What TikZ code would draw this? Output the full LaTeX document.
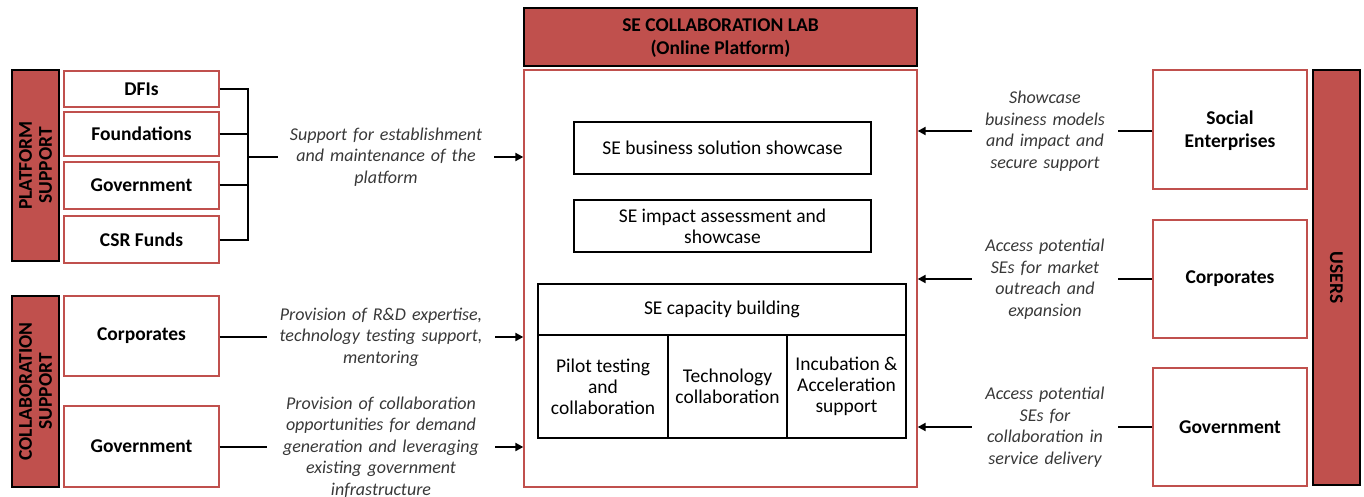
\documentclass[tikz,border=0pt]{standalone}
\usepackage{fontspec}
\setmainfont{Carlito}
\definecolor{sered}{HTML}{C0504D}
\definecolor{seink}{HTML}{000000}
\usetikzlibrary{positioning,arrows.meta,calc}

\begin{document}
\begin{tikzpicture}[
      x=1pt, y=-1pt,
      font=\fontsize{19.5}{21}\selectfont,
      org/.style={draw=sered, line width=1.3pt, fill=white, align=center,
                  inner sep=0pt, font=\fontsize{19.5}{23}\selectfont\bfseries},
      bar/.style={draw=seink, line width=1.8pt, fill=sered, inner sep=0pt},
      bartxt/.style={rotate=90, align=center,
                     font=\fontsize{19.5}{20}\selectfont\bfseries},
      item/.style={draw=seink, line width=1.3pt, fill=white, align=center,
                   inner sep=0pt},
      note/.style={font=\fontsize{18}{21.5}\selectfont\itshape, color=black!78,
                   align=center, inner sep=8pt},
      ln/.style={draw=seink, line width=2pt},
      arr/.style={-{Triangle[length=8pt,width=8pt]}, draw=seink, line width=2pt},
    ]
    \useasboundingbox (0,0) rectangle (1364,497);

    % ---------- Platform support ----------
    \node[bar, minimum width=47, minimum height=191] (ps) at (35.5,165.5) {};
    \node[bartxt] at (ps) {PLATFORM\\SUPPORT};
    \node[org, minimum width=155, minimum height=36] (d1) at (141.5,89) {DFIs};
    \node[org, minimum width=155, minimum height=44] (d2) at (141.5,134) {Foundations};
    \node[org, minimum width=155, minimum height=47] (d3) at (141.5,185.5) {Government};
    \node[org, minimum width=155, minimum height=47] (d4) at (141.5,239.5) {CSR Funds};

    % ---------- Collaboration support ----------
    \node[bar, minimum width=47, minimum height=191] (cs) at (35.5,391.5) {};
    \node[bartxt] at (cs) {COLLABORATION\\SUPPORT};
    \node[org, minimum width=155, minimum height=80] (c1) at (141.5,336) {Corporates};
    \node[org, minimum width=155, minimum height=81] (c2) at (141.5,446.5) {Government};

    % ---------- Collaboration lab ----------
    \node[bar, minimum width=393, minimum height=58, align=center, text depth=0pt,
          font=\fontsize{19.5}{23}\selectfont\bfseries] (lt) at (720.5,37)
      {SE COLLABORATION LAB\\(Online Platform)};
    \node[org, minimum width=393, minimum height=417] (lab) at (720.5,278.5) {};
    \node[item, minimum width=297, minimum height=52] (s1) at (722.5,148)
      {SE business solution showcase};
    \node[item, minimum width=297, minimum height=52] (s2) at (722.5,226)
      {SE impact assessment and\\showcase};
    \node[item, minimum width=368, minimum height=51] (k0) at (722,309.5)
      {SE capacity building};
    \node[item, minimum width=130, minimum height=103] (k1) at (603,386.5)
      {Pilot testing\\and\\collaboration};
    \node[item, minimum width=119, minimum height=103] (k2) at (727.5,386.5)
      {Technology\\collaboration};
    \node[item, minimum width=119, minimum height=103] (k3) at (846.5,386.5)
      {Incubation \&\\Acceleration\\support};

    % ---------- Users ----------
    \node[bar, minimum width=47, minimum height=415] (us) at (1336.5,277.5) {};
    \node[bartxt, rotate=180] at (us) {USERS};
    \node[org, minimum width=154, minimum height=119, text depth=0pt] (u1)
      at (1230,129.5) {Social\\Enterprises};
    \node[org, minimum width=154, minimum height=118] (u2) at (1230,279) {Corporates};
    \node[org, minimum width=154, minimum height=118] (u3) at (1230,427) {Government};

    % ---------- flow labels ----------
    \node[note, text width=200] (t1) at (386,157)
      {Support for establishment\\and maintenance of the\\platform};
    \node[note, text width=212] (t2) at (381,337)
      {Provision of R\&D expertise,\\technology testing support,\\mentoring};
    \node[note, text width=212] (t3) at (381,447)
      {Provision of collaboration\\opportunities for demand\\generation and leveraging\\existing government\\infrastructure};
    \node[note, text width=130] (r1) at (1045,131)
      {Showcase\\business models\\and impact and\\secure support};
    \node[note, text width=130] (r2) at (1045,279)
      {Access potential\\SEs for market\\outreach and\\expansion};
    \node[note, text width=130] (r3) at (1045,427)
      {Access potential\\SEs for\\collaboration in\\service delivery};

    % ---------- flow ----------
    \coordinate (br) at (248,157);
    \draw[ln] (d1.east) -| (br);
    \draw[ln] (d4.east) -| (br);
    \draw[ln] (d2.east) -- (d2.east -| br);
    \draw[ln] (d3.east) -- (d3.east -| br);
    \draw[ln] (br) -- (t1.west);
    \draw[arr] (t1.east) -- (lab.west |- t1.east);
    \draw[ln] (t2.west -| c1.east) -- (t2.west);
    \draw[arr] (t2.east) -- (lab.west |- t2.east);
    \draw[ln] (t3.west -| c2.east) -- (t3.west);
    \draw[arr] (t3.east) -- (lab.west |- t3.east);
    \draw[ln] (r1.east -| u1.west) -- (r1.east);
    \draw[arr] (r1.west) -- (lab.east |- r1.west);
    \draw[ln] (r2.east -| u2.west) -- (r2.east);
    \draw[arr] (r2.west) -- (lab.east |- r2.west);
    \draw[ln] (r3.east -| u3.west) -- (r3.east);
    \draw[arr] (r3.west) -- (lab.east |- r3.west);

  \end{tikzpicture}
\end{document}
